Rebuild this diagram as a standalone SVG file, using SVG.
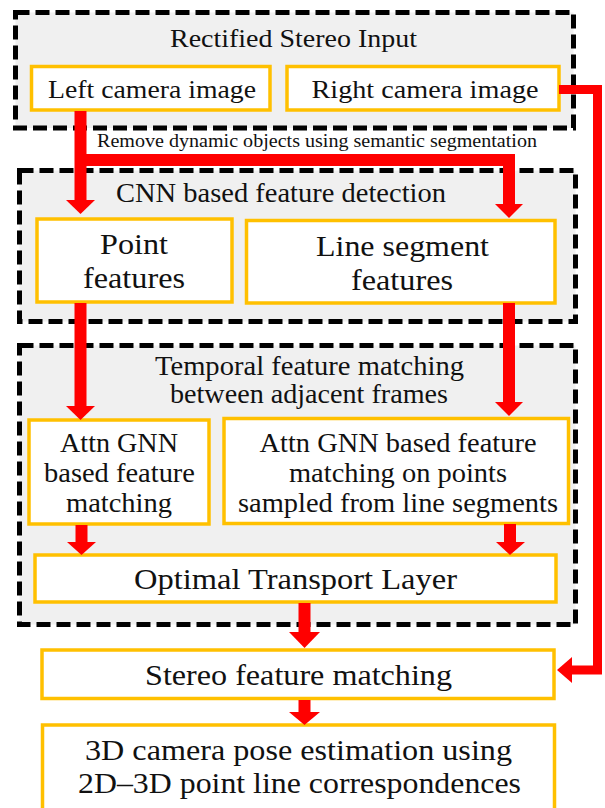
<svg xmlns="http://www.w3.org/2000/svg" width="605" height="808" viewBox="0 0 605 808">
<style>
.grp{fill:#f0f0f0;stroke:#000;stroke-width:5;stroke-dasharray:14 6}
.box{fill:#fff;stroke:#FFC000;stroke-width:3.5}
.t{font-family:"Liberation Serif",serif;fill:#111;text-anchor:middle;dominant-baseline:central}
.red{fill:none;stroke:#FF0000;stroke-width:12}
.redt{fill:none;stroke:#FF0000;stroke-width:9}
.head{fill:#FF0000}
</style>
<rect width="605" height="808" fill="#fff"/>
<g id="stereo-input">
<rect class="grp" x="15.5" y="12.5" width="558" height="115.5"/>
<text class="t" x="293.5" y="38" font-size="26" textLength="247" lengthAdjust="spacingAndGlyphs">Rectified Stereo Input</text>
</g>
<g id="left-camera">
<rect class="box" x="31.5" y="66.5" width="238.5" height="43.5"/>
<text class="t" x="152" y="89" font-size="26" textLength="208" lengthAdjust="spacingAndGlyphs">Left camera image</text>
</g>
<g id="right-camera">
<rect class="box" x="287" y="66.5" width="272" height="43.5"/>
<text class="t" x="425" y="89" font-size="26" textLength="227" lengthAdjust="spacingAndGlyphs">Right camera image</text>
</g>
<g id="cnn-detection">
<rect class="grp" x="19.5" y="170.5" width="556" height="151"/>
<text class="t" x="281" y="193" font-size="27" textLength="330" lengthAdjust="spacingAndGlyphs">CNN based feature detection</text>
</g>
<g id="point-features">
<rect class="box" x="37" y="219" width="195" height="83"/>
<text class="t" x="134" y="243" font-size="30" textLength="68" lengthAdjust="spacingAndGlyphs">Point</text>
<text class="t" x="134" y="277" font-size="30" textLength="102" lengthAdjust="spacingAndGlyphs">features</text>
</g>
<g id="line-features">
<rect class="box" x="246.5" y="220.5" width="308.5" height="82.5"/>
<text class="t" x="402.5" y="245" font-size="30" textLength="173" lengthAdjust="spacingAndGlyphs">Line segment</text>
<text class="t" x="402" y="279" font-size="30" textLength="102" lengthAdjust="spacingAndGlyphs">features</text>
</g>
<g id="temporal-matching">
<rect class="grp" x="19.5" y="345.5" width="556" height="279"/>
<text class="t" x="309.5" y="365" font-size="28" textLength="309" lengthAdjust="spacingAndGlyphs">Temporal feature matching</text>
<text class="t" x="309" y="393" font-size="28" textLength="278" lengthAdjust="spacingAndGlyphs">between adjacent frames</text>
</g>
<g id="attn-point">
<rect class="box" x="29" y="420" width="180" height="104"/>
<text class="t" x="119" y="442" font-size="28" textLength="118" lengthAdjust="spacingAndGlyphs">Attn GNN</text>
<text class="t" x="119.5" y="472" font-size="28" textLength="151" lengthAdjust="spacingAndGlyphs">based feature</text>
<text class="t" x="119" y="502" font-size="28" textLength="106" lengthAdjust="spacingAndGlyphs">matching</text>
</g>
<g id="attn-line">
<rect class="box" x="224" y="418.5" width="344.5" height="105"/>
<text class="t" x="398" y="442" font-size="28" textLength="277" lengthAdjust="spacingAndGlyphs">Attn GNN based feature</text>
<text class="t" x="398" y="472" font-size="28" textLength="218" lengthAdjust="spacingAndGlyphs">matching on points</text>
<text class="t" x="398" y="502" font-size="28" textLength="320" lengthAdjust="spacingAndGlyphs">sampled from line segments</text>
</g>
<g id="optimal-transport">
<rect class="box" x="35" y="555" width="521" height="47"/>
<text class="t" x="295.5" y="578" font-size="30" textLength="323" lengthAdjust="spacingAndGlyphs">Optimal Transport Layer</text>
</g>
<g id="stereo-matching">
<rect class="box" x="42" y="650" width="512" height="48.5"/>
<text class="t" x="298.5" y="675" font-size="29" textLength="307" lengthAdjust="spacingAndGlyphs">Stereo feature matching</text>
</g>
<g id="pose-estimation">
<rect class="box" x="42.5" y="725" width="512" height="90"/>
<text class="t" x="298.5" y="750" font-size="29" textLength="427" lengthAdjust="spacingAndGlyphs">3D camera pose estimation using</text>
<text class="t" x="299.5" y="783" font-size="29" textLength="443" lengthAdjust="spacingAndGlyphs">2D–3D point line correspondences</text>
</g>
<g id="connectors">
<text class="t" x="317" y="141" font-size="18" textLength="440" lengthAdjust="spacingAndGlyphs">Remove dynamic objects using semantic segmentation</text>
<polyline class="red" points="80.5,111 80.5,201"/>
<polyline class="red" points="80.5,160 509,160 509,205"/>
<polygon class="head" points="66,200 95,200 80.5,214"/>
<polygon class="head" points="495,204 523,204 509,218"/>
<polyline class="red" points="80.5,303 80.5,407"/>
<polygon class="head" points="66,406 95,406 80.5,420"/>
<polyline class="red" points="509,303 509,403"/>
<polygon class="head" points="495,402 523,402 509,416"/>
<polyline class="red" points="81.5,525 81.5,543"/>
<polygon class="head" points="67,542 96,542 81.5,555"/>
<polyline class="red" points="510,524 510,543"/>
<polygon class="head" points="496,542 525,542 510,555"/>
<polyline class="red" points="304.5,603 304.5,633"/>
<polygon class="head" points="289,632 320,632 304.5,648"/>
<polyline class="red" points="304.5,700 304.5,713"/>
<polygon class="head" points="289,712 320,712 304.5,725"/>
<polyline class="redt" points="559,89.5 597.5,89.5 597.5,670 571,670"/>
<polygon class="head" points="572,657 572,683 557,670"/>
</g>
</svg>
